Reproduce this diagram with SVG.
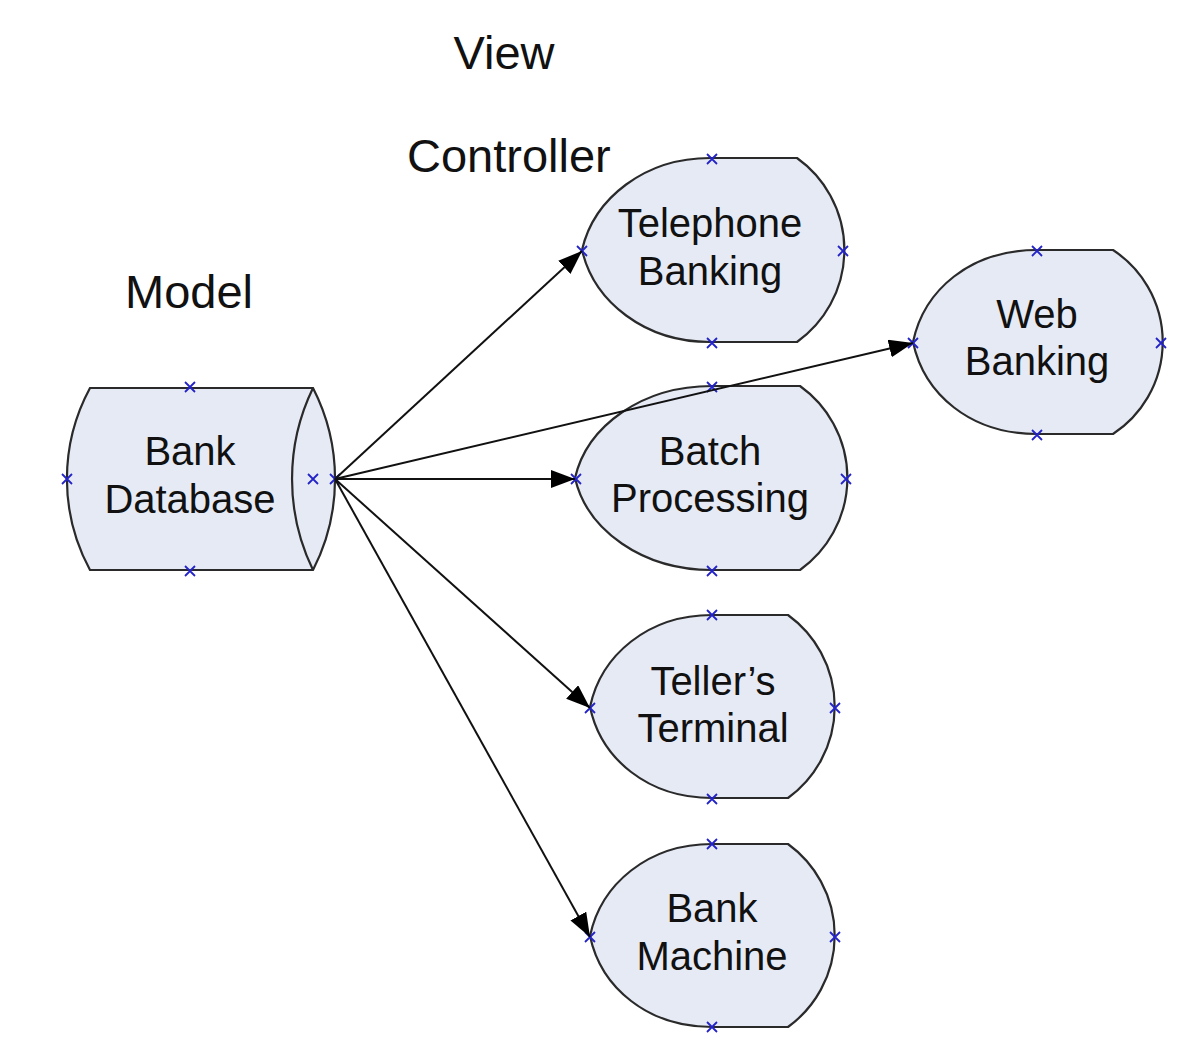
<svg xmlns="http://www.w3.org/2000/svg" xmlns:xlink="http://www.w3.org/1999/xlink" width="1203" height="1064" viewBox="0 0 1203 1064">
  <style>
    .shape { fill: #e6eaf5; stroke: #2a2a2a; stroke-width: 2.2; }
    .ntext { font-family: "Liberation Sans", Arial, sans-serif; font-size: 40px; fill: #111; text-anchor: middle; }
    .label { font-family: "Liberation Sans", Arial, sans-serif; font-size: 47px; fill: #111; }
    .edge { fill: none; stroke: #111; stroke-width: 2; }
    .pt { fill: none; stroke: #2323c8; stroke-width: 1.8; }
  </style>
  <defs>
    <marker id="arrow" markerUnits="userSpaceOnUse" markerWidth="26" markerHeight="20" refX="24" refY="9" orient="auto">
      <path d="M0,0 L24,9 L0,18 Z" fill="#000"/>
    </marker>
    <path id="x" class="pt" d="M-5,-5 L5,5 M-5,5 L5,-5"/>
  </defs>
  <rect width="1203" height="1064" fill="#ffffff"/>

  <text class="label" x="504" y="69" text-anchor="middle">View</text>
  <text class="label" x="407" y="172">Controller</text>
  <text class="label" x="125" y="308">Model</text>

  <g id="bank-database">
    <path class="shape" d="M90,388 L313,388 A199,199 0 0 1 313,570 L90,570 A191,191 0 0 1 90,388 Z"/>
    <path class="shape" d="M313,388 A208,208 0 0 0 313,570" fill="none"/>
    <text class="ntext" x="190" y="465">Bank</text>
    <text class="ntext" x="190" y="513">Database</text>
    <use xlink:href="#x" x="190" y="387"/>
    <use xlink:href="#x" x="190" y="571"/>
    <use xlink:href="#x" x="67" y="479"/>
    <use xlink:href="#x" x="313" y="479"/>
    <use xlink:href="#x" x="335" y="479"/>
  </g>

  <g id="telephone-banking">
    <path class="shape" d="M710,158 L797,158 A113,113 0 0 1 797,342 L710,342 C645,342 594,302 582,250 C594,198 645,158 710,158 Z"/>
    <text class="ntext" x="710" y="237">Telephone</text>
    <text class="ntext" x="710" y="285">Banking</text>
    <use xlink:href="#x" x="712" y="159"/>
    <use xlink:href="#x" x="712" y="343"/>
    <use xlink:href="#x" x="582" y="251"/>
    <use xlink:href="#x" x="843" y="251"/>
  </g>

  <g id="web-banking">
    <path class="shape" d="M1037,250 L1113,250 A110,110 0 0 1 1113,434 L1037,434 C970,434 924,394 913,342 C924,290 970,250 1037,250 Z"/>
    <text class="ntext" x="1037" y="328">Web</text>
    <text class="ntext" x="1037" y="375">Banking</text>
    <use xlink:href="#x" x="1037" y="251"/>
    <use xlink:href="#x" x="1037" y="435"/>
    <use xlink:href="#x" x="913" y="343"/>
    <use xlink:href="#x" x="1161" y="343"/>
  </g>

  <g id="batch-processing">
    <path class="shape" d="M712,386 L800,386 A113,113 0 0 1 800,570 L712,570 C642,570 587,530 575,478 C587,426 642,386 712,386 Z"/>
    <text class="ntext" x="710" y="465">Batch</text>
    <text class="ntext" x="710" y="512">Processing</text>
    <use xlink:href="#x" x="712" y="387"/>
    <use xlink:href="#x" x="712" y="571"/>
    <use xlink:href="#x" x="576" y="479"/>
    <use xlink:href="#x" x="846" y="479"/>
  </g>

  <g id="tellers-terminal">
    <path class="shape" d="M712,615 L788,615 A113,113 0 0 1 788,798 L712,798 C648,798 601,759 590,707 C601,655 648,615 712,615 Z"/>
    <text class="ntext" x="713" y="695">Teller’s</text>
    <text class="ntext" x="713" y="742">Terminal</text>
    <use xlink:href="#x" x="712" y="615"/>
    <use xlink:href="#x" x="712" y="799"/>
    <use xlink:href="#x" x="590" y="708"/>
    <use xlink:href="#x" x="835" y="708"/>
  </g>

  <g id="bank-machine">
    <path class="shape" d="M712,844 L788,844 A113,113 0 0 1 788,1027 L712,1027 C648,1027 601,988 590,936 C601,884 648,844 712,844 Z"/>
    <text class="ntext" x="712" y="922">Bank</text>
    <text class="ntext" x="712" y="970">Machine</text>
    <use xlink:href="#x" x="712" y="844"/>
    <use xlink:href="#x" x="712" y="1027"/>
    <use xlink:href="#x" x="590" y="937"/>
    <use xlink:href="#x" x="835" y="937"/>
  </g>

  <g id="connectors">
    <line class="edge" x1="335" y1="479" x2="582" y2="251" marker-end="url(#arrow)"/>
    <line class="edge" x1="335" y1="479" x2="913" y2="343" marker-end="url(#arrow)"/>
    <line class="edge" x1="335" y1="479" x2="575" y2="479" marker-end="url(#arrow)"/>
    <line class="edge" x1="335" y1="479" x2="590" y2="708" marker-end="url(#arrow)"/>
    <line class="edge" x1="335" y1="479" x2="590" y2="937" marker-end="url(#arrow)"/>
  </g>
</svg>
